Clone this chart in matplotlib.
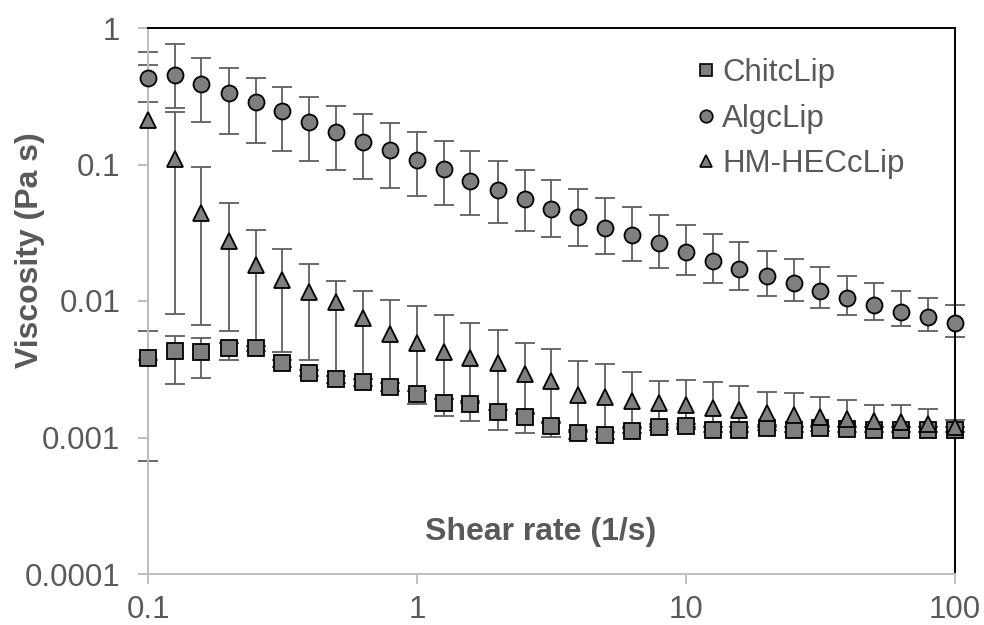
import matplotlib

matplotlib.use("Agg")
import matplotlib.pyplot as plt  # noqa: E402
from matplotlib.lines import Line2D  # noqa: E402

plt.rcParams["font.family"] = ["Liberation Sans", "DejaVu Sans"]

TEXT = "#595959"
FACE = "#7f7f7f"
BAR = "#5f5f5f"
AXIS = "#bfbfbf"

shear = [0.1, 0.126, 0.158, 0.2, 0.251, 0.316, 0.398, 0.501, 0.631, 0.794,
         1, 1.26, 1.58, 2, 2.51, 3.16, 3.98, 5.01, 6.31, 7.94,
         10, 12.6, 15.8, 20, 25.1, 31.6, 39.8, 50.1, 63.1, 79.4, 100]

chit = [0.0038, 0.0043, 0.00421, 0.00455, 0.0045, 0.0035, 0.00295, 0.00267, 0.00256, 0.00236,
        0.00207, 0.0018, 0.00175, 0.00153, 0.00141, 0.00121, 0.00107, 0.00105, 0.00112, 0.0012,
        0.00121, 0.00114, 0.00114, 0.00118, 0.00114, 0.00117, 0.00115, 0.00114, 0.00114, 0.00114, 0.00114]
chit_hi = [0.00603, 0.00557, 0.00533, 0.0049, 0.0047, 0.0037, 0.0031, 0.0028, 0.0027, 0.0025,
           0.0022, 0.0019, 0.00185, 0.0016, 0.00148, 0.00128, 0.00113, 0.0011, 0.00117, 0.00125,
           0.00126, 0.00119, 0.00119, 0.00123, 0.00119, 0.00122, 0.0012, 0.00119, 0.00119, 0.00119, 0.00119]
chit_lo = [0.00067, 0.00247, 0.00273, 0.0037, 0.0043, 0.0033, 0.0028, 0.0025, 0.0024, 0.0022,
           0.00175, 0.00143, 0.00132, 0.00114, 0.00108, 0.00101, 0.00098, 0.00097, 0.00107, 0.00114,
           0.00115, 0.00109, 0.00109, 0.00113, 0.00109, 0.00112, 0.0011, 0.00109, 0.00109, 0.00109, 0.00109]

algc = [0.428, 0.452, 0.387, 0.336, 0.288, 0.246, 0.206, 0.174, 0.147, 0.128,
        0.107, 0.0922, 0.0761, 0.065, 0.0556, 0.0472, 0.0415, 0.0344, 0.0303, 0.0265,
        0.023, 0.0196, 0.0171, 0.0152, 0.0135, 0.0119, 0.0105, 0.00935, 0.00835, 0.00767, 0.00687]
algc_hi = [0.671, 0.76, 0.606, 0.507, 0.428, 0.37, 0.314, 0.27, 0.233, 0.201,
           0.172, 0.148, 0.126, 0.106, 0.0907, 0.077, 0.0661, 0.0565, 0.0491, 0.0424,
           0.0362, 0.031, 0.0269, 0.0234, 0.0203, 0.0177, 0.0153, 0.0136, 0.0119, 0.01057, 0.00939]
algc_lo = [0.288, 0.258, 0.206, 0.168, 0.144, 0.126, 0.106, 0.0916, 0.0783, 0.0669,
           0.0585, 0.0505, 0.0429, 0.0375, 0.0326, 0.0293, 0.0254, 0.0222, 0.0195, 0.0174,
           0.0155, 0.0135, 0.0121, 0.0109, 0.00995, 0.00889, 0.00794, 0.00722, 0.00653, 0.006, 0.00545]

hmhec = [0.211, 0.11, 0.0441, 0.0277, 0.0184, 0.0143, 0.0117, 0.00988, 0.00755, 0.0057,
         0.0049, 0.00425, 0.0038, 0.0035, 0.00292, 0.00261, 0.00205, 0.00197, 0.00186, 0.00178,
         0.00173, 0.00165, 0.00159, 0.00152, 0.00146, 0.00142, 0.00137, 0.00131, 0.0013, 0.00126, 0.0012]
hmhec_hi = [0.536, 0.244, 0.0964, 0.0525, 0.0331, 0.024, 0.0186, 0.0141, 0.0118, 0.0102,
            0.0092, 0.00794, 0.00693, 0.00616, 0.00492, 0.00443, 0.00365, 0.00346, 0.00302, 0.00261,
            0.00264, 0.00254, 0.00237, 0.00217, 0.00212, 0.00197, 0.00188, 0.00174, 0.00173, 0.00162, 0.00135]
hmhec_lo = [0.0037, 0.00803, 0.00664, 0.00603, 0.0047, 0.00421, 0.0037, 0.0028, 0.0027, 0.0025,
            0.0022, 0.0019, 0.0018, 0.0016, 0.0015, 0.0013, 0.0011, 0.0011, 0.0012, 0.0012,
            0.0012, 0.0012, 0.0012, 0.0012, 0.0012, 0.0012, 0.0012, 0.0012, 0.0012, 0.0012, 0.0012]

series = [
    ("ChitcLip", chit, chit_lo, chit_hi, "s", 12, 3),
    ("AlgcLip", algc, algc_lo, algc_hi, "o", 11.5, 4),
    ("HM-HECcLip", hmhec, hmhec_lo, hmhec_hi, "^", 12, 5),
]

fig = plt.figure(figsize=(9.84, 6.25), dpi=100)
ax = fig.add_axes([148 / 984, 1 - 574 / 625, 807 / 984, 546 / 625])
ax.set_xscale("log")
ax.set_yscale("log")
ax.set_xlim(0.1, 100)
ax.set_ylim(0.0001, 1)

for name, vals, lo, hi, mk, ms, z in series:
    err = [[v - l for v, l in zip(vals, lo)], [h - v for v, h in zip(vals, hi)]]
    ax.errorbar(shear, vals, yerr=err, fmt="none", ecolor=BAR, elinewidth=1.3,
                capsize=7, capthick=1.3, zorder=2, clip_on=False)
    ax.plot(shear, vals, linestyle="none", marker=mk, markersize=ms,
            markerfacecolor=FACE, markeredgecolor="black", markeredgewidth=1.3,
            zorder=z, clip_on=False)

for side in ("left", "bottom"):
    ax.spines[side].set_color(AXIS)
    ax.spines[side].set_linewidth(1.4)
for side in ("top", "right"):
    ax.spines[side].set_color("black")
    ax.spines[side].set_linewidth(1.4)

ax.set_xticks([0.1, 1, 10, 100])
ax.set_xticklabels(["0.1", "1", "10", "100"])
ax.set_yticks([0.0001, 0.001, 0.01, 0.1, 1])
ax.set_yticklabels(["0.0001", "0.001", "0.01", "0.1", "1"])
ax.minorticks_off()
ax.tick_params(which="major", direction="out", length=7, width=1.4, color=AXIS,
               labelcolor=TEXT, labelsize=22.5)
ax.tick_params(axis="x", pad=8)
ax.tick_params(axis="y", pad=13)

ax.text(0.4864, 0.077, "Shear rate (1/s)", transform=ax.transAxes, ha="center",
        va="center", fontsize=23, fontweight="bold", color=TEXT)
fig.text(30 / 984, 1 - 250 / 625, "Viscosity (Pa s)", rotation=90, ha="center",
         va="center", fontsize=23, fontweight="bold", color=TEXT)

handles = [
    Line2D([], [], linestyle="none", marker=mk, markersize=9, markerfacecolor=FACE,
           markeredgecolor="black", markeredgewidth=1.2)
    for _, _, _, _, mk, _, _ in series
]
ax.legend(handles, [s[0] for s in series], loc="upper left",
          bbox_to_anchor=(697 / 984, 1 - 58 / 625), bbox_transform=fig.transFigure,
          frameon=False, fontsize=22.5, labelcolor=TEXT, handlelength=0.6,
          handletextpad=0.2, labelspacing=0.5, borderpad=0, borderaxespad=0)

fig.savefig("out.png", dpi=100, facecolor="white")
